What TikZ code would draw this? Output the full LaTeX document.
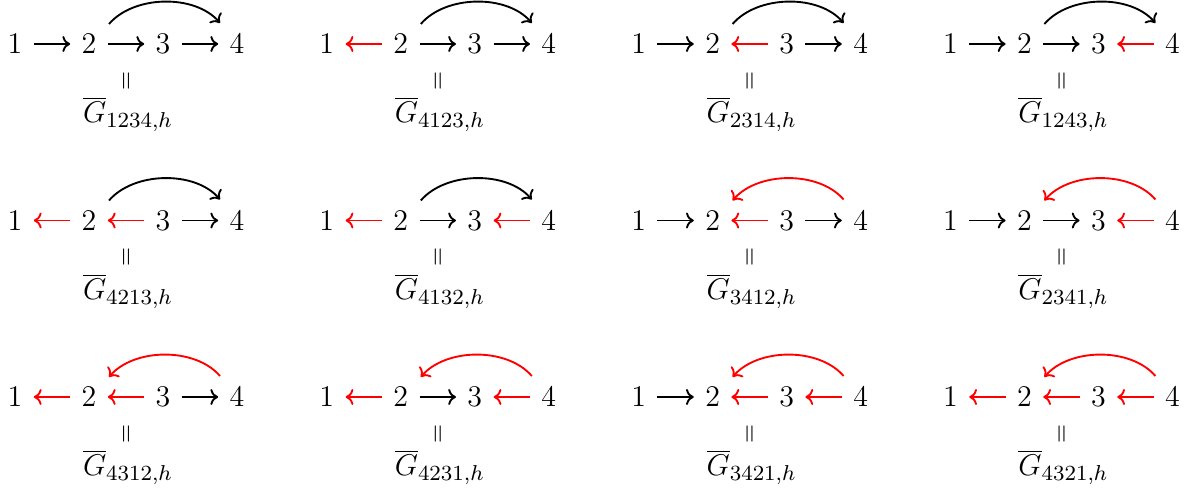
\documentclass[tikz,border=0pt]{standalone}
\usetikzlibrary{arrows.meta}
\begin{document}
\begin{tikzpicture}[x=0.4pt,y=-0.4pt,
  tipcm/.tip={Computer Modern Rightarrow[width=6.4pt,length=3.1pt]},
  dig/.style={inner ysep=2pt,inner xsep=4.4pt,font=\large},
  fw/.style={-tipcm, line width=0.75pt, black},
  bw/.style={tipcm-, line width=0.75pt, red},
  eqsym/.style={inner sep=0pt,font=\large},
  glab/.style={anchor=base, inner sep=0pt,font=\large}]
\useasboundingbox (0,0) rectangle (1196,491);
\foreach \cx/\ry/\a/\b/\c/\d/\lab in {
  0/0/fw/fw/fw/fw/1234, 1/0/bw/fw/fw/fw/4123, 2/0/fw/bw/fw/fw/2314, 3/0/fw/fw/bw/fw/1243,
  0/1/bw/bw/fw/fw/4213, 1/1/bw/fw/bw/fw/4132, 2/1/fw/bw/fw/bw/3412, 3/1/fw/fw/bw/bw/2341,
  0/2/bw/bw/fw/bw/4312, 1/2/bw/fw/bw/bw/4231, 2/2/fw/bw/bw/bw/3421, 3/2/bw/bw/bw/bw/4321} {
  \pgfmathsetmacro\X{15+311.8*\cx}
  \pgfmathsetmacro\Y{44+176.5*\ry}
  \node[dig] (n\cx\ry a) at (\X,\Y) {$1$};
  \node[dig] (n\cx\ry b) at (\X+74,\Y) {$2$};
  \node[dig] (n\cx\ry c) at (\X+148,\Y) {$3$};
  \node[dig] (n\cx\ry d) at (\X+222,\Y) {$4$};
  \draw[\a] (n\cx\ry a) -- (n\cx\ry b);
  \draw[\b] (n\cx\ry b) -- (n\cx\ry c);
  \draw[\c] (n\cx\ry c) -- (n\cx\ry d);
  \draw[\d] ([shift={(20,-20)}]n\cx\ry b.center) .. controls +(25,-29) and +(-25,-29) .. ([shift={(-17,-21)}]n\cx\ry d.center);
  \node[eqsym] (e\cx\ry) at (\X+112.5,\Y+37) {\scalebox{1.15}{\rotatebox{90}{$\scriptstyle=$}}};
  \node[glab] (g\cx\ry) at (\X+113,\Y+79) {$\overline{G}_{\scalebox{1.08}{$\scriptstyle\lab,h$}}$};
}
\end{tikzpicture}
\end{document}
